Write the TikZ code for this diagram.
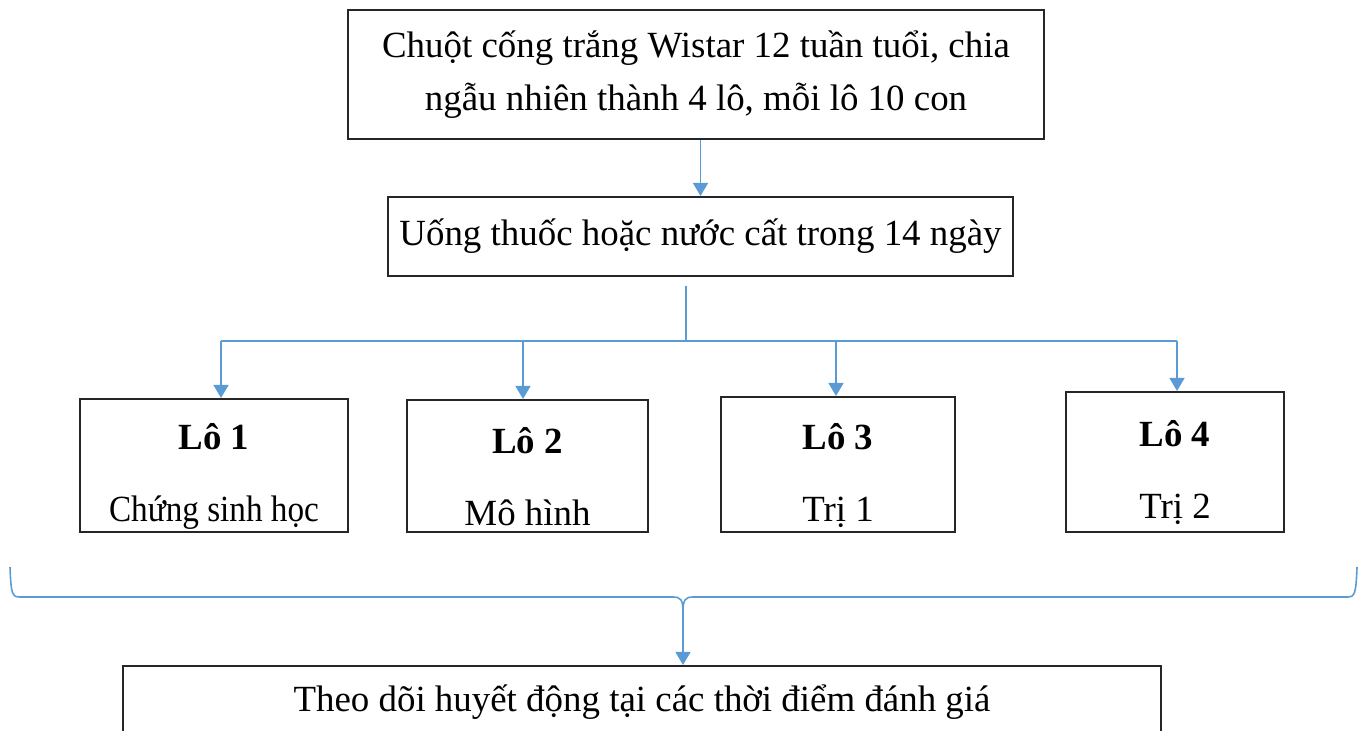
\documentclass[tikz,border=0pt]{standalone}
\usepackage{fontspec}
\setmainfont{Liberation Serif}
\usepackage{tikz}
\usetikzlibrary{arrows.meta}
\definecolor{linkblue}{RGB}{91,155,213}
\newcommand{\lotstrut}{\rule{0pt}{27pt}}

\begin{document}
\begin{tikzpicture}[font=\fontsize{21}{30}\selectfont,main box/.style={draw=black!85,line width=1.2pt,rectangle,align=center,inner sep=0pt},link/.style={draw=linkblue,line width=0.9pt},arrow link/.style={link,-{Triangle[width=0.3cm,length=0.26cm]}}]
    \useasboundingbox (0,0) rectangle (27.34,-14.6);

    \node[main box,minimum width=13.92cm,minimum height=2.58cm] (start) at (13.92,-1.49) {Chuột cống trắng Wistar 12 tuần tuổi, chia\\ngẫu nhiên thành 4 lô, mỗi lô 10 con};
    \node[main box,minimum width=12.5cm,minimum height=1.58cm] (dose) at (14.01,-4.73) {Uống thuốc hoặc nước cất trong 14 ngày};
    \node[main box,minimum width=5.36cm,minimum height=2.66cm] (lo1) at (4.28,-9.31) {\lotstrut\textbf{Lô 1}\\[11pt]\scalebox{0.9}[1]{Chứng sinh học}};
    \node[main box,minimum width=4.82cm,minimum height=2.64cm] (lo2) at (10.55,-9.32) {\lotstrut\textbf{Lô 2}\\[11pt]Mô hình};
    \node[main box,minimum width=4.68cm,minimum height=2.7cm] (lo3) at (16.76,-9.29) {\lotstrut\textbf{Lô 3}\\[11pt]Trị 1};
    \node[main box,minimum width=4.36cm,minimum height=2.8cm] (lo4) at (23.5,-9.24) {\lotstrut\textbf{Lô 4}\\[11pt]Trị 2};
    \node[main box,minimum width=20.76cm,minimum height=1.44cm] (track) at (12.84,-14.04) {Theo dõi huyết động tại các thời điểm đánh giá};

    \coordinate (split) at (13.72,-5.72);
    \coordinate (hub) at (13.72,-6.84);
    \coordinate (d1) at (4.42,-6.82);
    \coordinate (d2) at (10.46,-6.82);
    \coordinate (d3) at (16.72,-6.82);
    \coordinate (d4) at (23.54,-6.82);
    \coordinate (tip) at (13.66,-12.24);

    \draw[arrow link] (start.south -| dose.north) -- (dose.north);
    \draw[link] (split) -- (hub);
    \draw[link] (d1) -- (d4);
    \foreach \i in {1,...,4}
        \draw[arrow link] (d\i) -- (d\i |- lo\i.north);

    % brace under the four lots
    \draw[link] (0.2,-11.34) .. controls (0.22,-11.9) and (0.25,-11.94) .. (0.4,-11.94) -- (13.46,-11.94) .. controls (13.62,-11.94) and (13.66,-12.0) .. (tip);
    \draw[link] (tip) .. controls (13.66,-12.0) and (13.7,-11.94) .. (13.86,-11.94) -- (26.94,-11.94) .. controls (27.09,-11.94) and (27.12,-11.9) .. (27.14,-11.34);
    \draw[arrow link] (tip) -- (tip |- track.north);

\end{tikzpicture}
\end{document}
